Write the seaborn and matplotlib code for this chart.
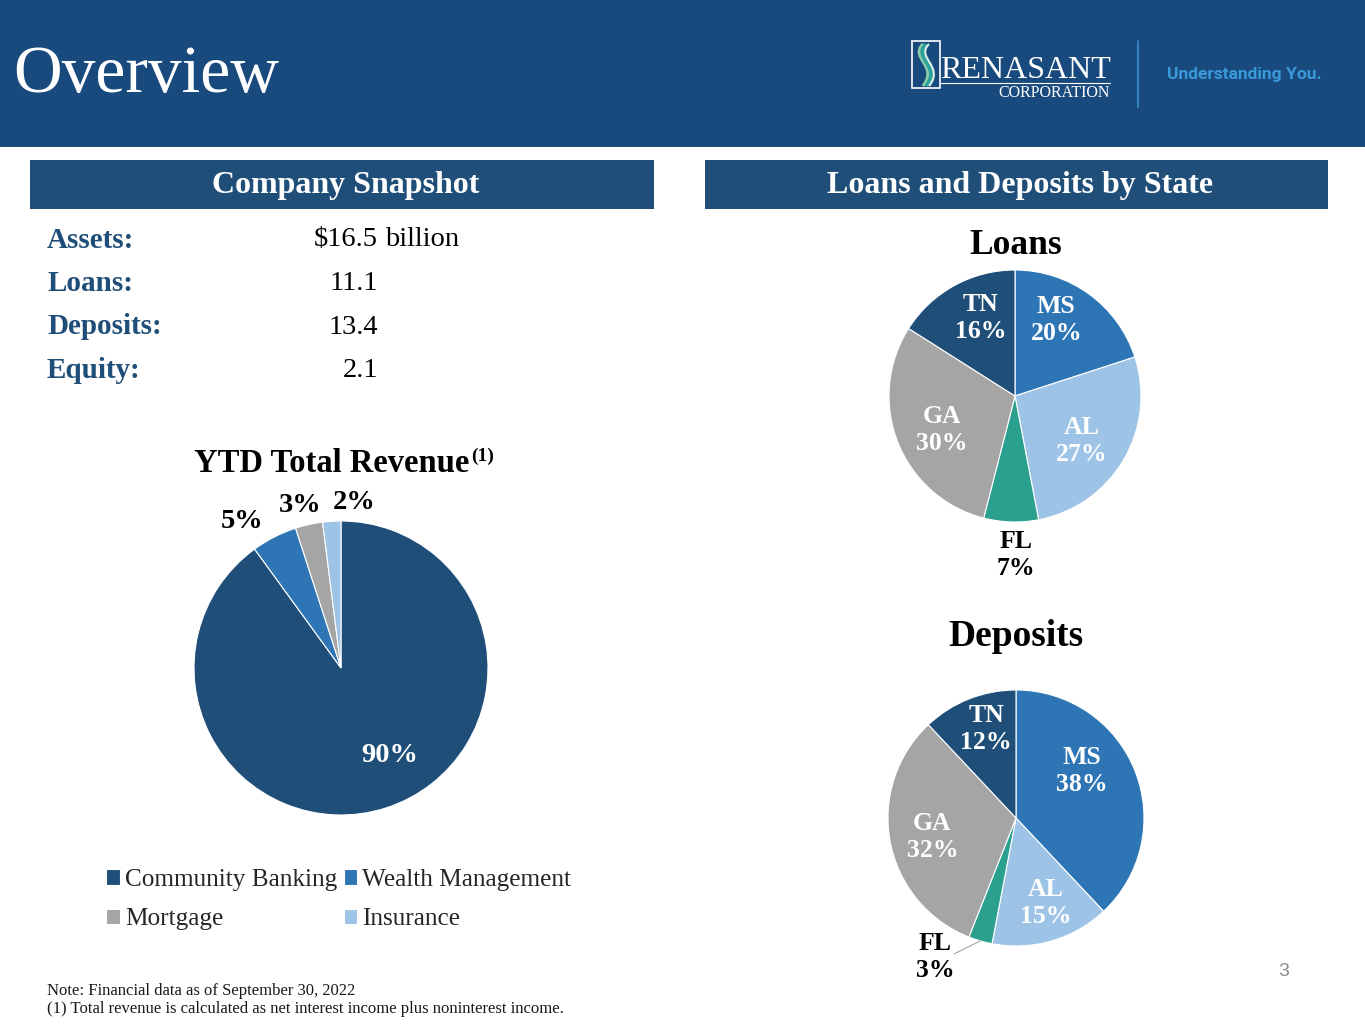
import matplotlib
matplotlib.use('Agg')
import matplotlib.pyplot as plt
import numpy as np
import seaborn as sns
from matplotlib.patches import Rectangle, PathPatch
from matplotlib.path import Path

# ---- data ----
snapshot_items = ["Assets:", "Loans:", "Deposits:", "Equity:"]
snapshot_values = [16.5, 11.1, 13.4, 2.1]

revenue_segments = ["Community Banking", "Wealth Management", "Mortgage", "Insurance"]
revenue_pct = [90, 5, 3, 2]

states = ["MS", "AL", "FL", "GA", "TN"]
loans_pct = [20, 27, 7, 30, 16]
deposits_pct = [38, 15, 3, 32, 12]

# ---- style ----
sns.set_theme(style="white")
plt.rcParams['font.family'] = ['Liberation Serif', 'DejaVu Serif']

NAVY = "#1F4E79"
BAND = "#184A7D"
rev_colors = sns.color_palette(["#1F4E79", "#2E75B6", "#A5A5A5", "#9DC3E6"])
state_colors = sns.color_palette(["#2E75B6", "#9DC3E6", "#2BA08F", "#A5A5A5", "#1F4E79"])

W, H = 1365, 1024
fig = plt.figure(figsize=(W / 100, H / 100), dpi=100)

# background axes in pixel coordinates
bg = fig.add_axes([0, 0, 1, 1])
bg.set_xlim(0, W)
bg.set_ylim(H, 0)
bg.axis('off')

# header band and title
bg.add_patch(Rectangle((0, 0), W, 147, color=BAND, lw=0))
bg.text(13, 92, "Overview", color="white", fontsize=48.5, va="baseline", ha="left")

# logo
bg.add_patch(Rectangle((912, 41), 28, 47, fill=False, edgecolor="white", lw=1.2))
for dx, col, lw in [(-3, "#8CCBA8", 2.2), (0, "#2AA39A", 2.6), (3, "#D8EFE6", 1.6)]:
    verts = [(926 + dx, 44), (912 + dx, 58), (942 + dx, 66), (926 + dx, 86)]
    bg.add_patch(PathPatch(Path(verts, [Path.MOVETO, Path.CURVE4, Path.CURVE4, Path.CURVE4]),
                           fill=False, edgecolor=col, lw=lw))
bg.text(940, 78, "RENASANT", color="white", fontsize=23, va="baseline", ha="left")
bg.plot([940, 1110], [83, 83], color="white", lw=0.8)
bg.text(1110, 97, "CORPORATION", color="white", fontsize=11.5, va="baseline", ha="right")
bg.plot([1138, 1138], [41, 107], color="#3A8FD0", lw=1.2)
bg.text(1167, 75, "Understanding You.", color="#3A9AD9", fontsize=12.5, fontweight="bold",
        family="Roboto", va="center", ha="left")

# section headers
for x0, w, label in [(30, 624, "Company Snapshot"), (705, 623, "Loans and Deposits by State")]:
    bg.add_patch(Rectangle((x0, 160), w, 49, color=NAVY, lw=0))
    bg.text(x0 + w / 2 + 4, 186, label, color="white", fontsize=23, fontweight="bold",
            ha="center", va="center")

# company snapshot
for i, (item, val) in enumerate(zip(snapshot_items, snapshot_values)):
    y = 240 + i * 43.5
    bg.text(47, y, item, color=NAVY, fontsize=21, fontweight="bold", va="center", ha="left")
    num = f"${val}" if i == 0 else f"{val}"
    bg.text(378, y, num, color="black", fontsize=20.5, va="center", ha="right")
    if i == 0:
        bg.text(385, y, "billion", color="black", fontsize=20.5, va="center", ha="left")

# revenue title
bg.text(194, 472, "YTD Total Revenue", fontsize=23.5, fontweight="bold", color="black",
        va="baseline", ha="left")
bg.text(471, 461, "(1)", fontsize=14, fontweight="bold", color="black", va="baseline", ha="left")

# pie titles
bg.text(1016, 245, "Loans", fontsize=25.5, fontweight="bold", color="black", ha="center", va="center")
bg.text(1016, 637, "Deposits", fontsize=27, fontweight="bold", color="black", ha="center", va="center")

# footnotes and page number
bg.text(47, 991, "Note: Financial data as of September 30, 2022", fontsize=12, color="#1a1a1a",
        va="center", ha="left")
bg.text(47, 1009, "(1) Total revenue is calculated as net interest income plus noninterest income.",
        fontsize=12, color="#1a1a1a", va="center", ha="left")
bg.text(1284, 972, "3", fontsize=14, color="#8C8C8C", family="Liberation Sans", ha="center", va="center")


def pie_axes(cx, cy, r):
    ax = fig.add_axes([(cx - r) / W, 1 - (cy + r) / H, 2 * r / W, 2 * r / H])
    return ax


def draw_pie(ax, values, colors, texts, offsets, dists, text_colors, size):
    wedges, _ = ax.pie(values, colors=colors, startangle=90, counterclock=False,
                       wedgeprops=dict(edgecolor="white", linewidth=0.8))
    ax.set_xlim(-1, 1)
    ax.set_ylim(-1, 1)
    ax.set_aspect('equal')
    ax.axis('off')
    for w, t, off, d, tc in zip(wedges, texts, offsets, dists, text_colors):
        ang = np.deg2rad((w.theta1 + w.theta2) / 2 + off)
        ax.text(d * np.cos(ang), d * np.sin(ang), t, color=tc, fontsize=size, fontweight="bold",
                ha="center", va="center", linespacing=1.22, clip_on=False)
    return wedges


# revenue pie
ax_rev = pie_axes(341, 668, 147)
rev_wedges = draw_pie(ax_rev, revenue_pct, rev_colors, [f"{v}%" for v in revenue_pct],
                      [11, 7, 1.5, -8], [0.68, 1.20, 1.14, 1.13],
                      ["white", "black", "black", "black"], 20.5)
order = [0, 2, 1, 3]
leg = ax_rev.legend([rev_wedges[i] for i in order], [revenue_segments[i] for i in order],
                    ncol=2, frameon=False, loc="upper left",
                    bbox_to_anchor=(106 / W, 1 - 869 / H), bbox_transform=fig.transFigure,
                    fontsize=18.2, handlelength=0.55, handleheight=0.55, handletextpad=0.2,
                    columnspacing=0.25, labelspacing=0.68, borderpad=0, borderaxespad=0)
for t in leg.get_texts():
    t.set_color("#262626")

# loans pie
ax_loans = pie_axes(1015, 396, 126)
draw_pie(ax_loans, loans_pct, state_colors, [f"{s}\n{v}%" for s, v in zip(states, loans_pct)],
         [7.6, -3, 2, 3.4, -5], [0.69, 0.64, 1.26, 0.64, 0.68],
         ["white", "white", "black", "white", "white"], 18.5)

# deposits pie
ax_dep = pie_axes(1016, 818, 128)
dep_wedges = draw_pie(ax_dep, deposits_pct, state_colors,
                      [f"{s}\n{v}%" for s, v in zip(states, deposits_pct)],
                      [14, 3, -14, 2, -3], [0.63, 0.70, 1.26, 0.67, 0.73],
                      ["white", "white", "black", "white", "white"], 18.5)
fl = dep_wedges[2]
a = np.deg2rad((fl.theta1 + fl.theta2) / 2)
b = np.deg2rad(-114.5)
ax_dep.plot([np.cos(a), 1.167 * np.cos(b)], [np.sin(a), 1.167 * np.sin(b)],
            color="#A6A6A6", lw=0.8, clip_on=False)

fig.savefig("out.png", dpi=100)
